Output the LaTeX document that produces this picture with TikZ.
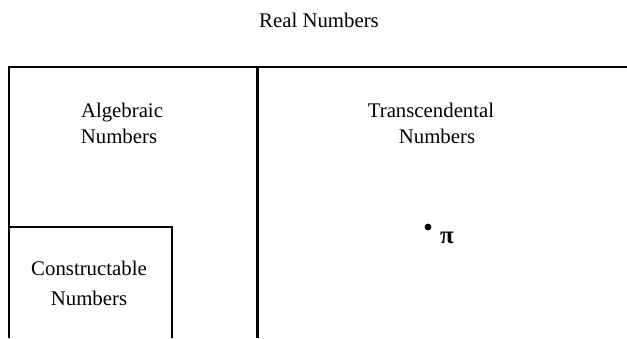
\documentclass[tikz,border=0pt]{standalone}
\usepackage{fontspec}
\setmainfont{Liberation Serif}
\begin{document}
\begin{tikzpicture}[x=0.5pt,y=-0.5pt,
  frame/.style={line width=1.4pt,line cap=butt},
  lbl/.style={anchor=base,inner sep=0pt,font=\fontsize{10.4}{12}\selectfont}]
\useasboundingbox[fill=white] (0,0) rectangle (627,338);
% frames
\draw[frame] (9,338) -- (9,67) -- (627,67);
\draw[frame] (257.5,67) -- (257.5,338);
\draw[frame] (9,227) -- (172,227) -- (172,338);
% labels
\node[lbl] (real) at (319,27) {Real Numbers};
\node[lbl] (alg1) at (122,117) {Algebraic};
\node[lbl] (alg2) at (119,143) {Numbers};
\node[lbl] (tr1) at (431,117) {Transcendental};
\node[lbl] (tr2) at (437,143) {Numbers};
\node[lbl] (con1) at (89,275) {Constructable};
\node[lbl] (con2) at (89,305) {Numbers};
\fill (428,227) circle[radius=3.4];
\node[lbl,font=\fontsize{12.5}{14}\selectfont\bfseries] (pi) at (447,243) {π};
\end{tikzpicture}
\end{document}
